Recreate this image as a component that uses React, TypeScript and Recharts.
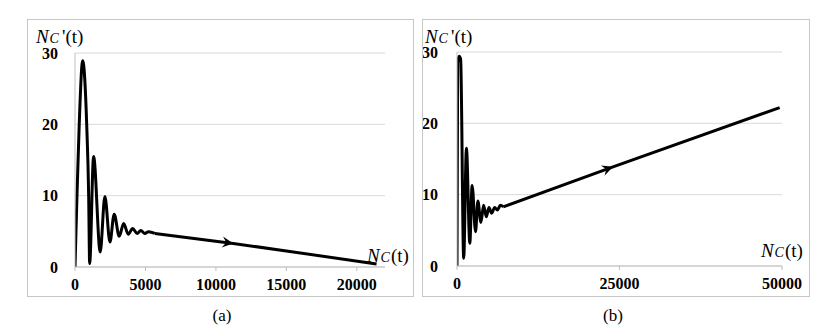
import React from "react";
import { LineChart, Line, XAxis, YAxis, CartesianGrid } from "recharts";

// panel (a): N_C(t) on x, N_C'(t) on y
const xA = [0, 140, 300, 545, 830, 970, 1040, 1320, 1790, 2120, 2480, 2780, 3140, 3450, 3780, 4090, 4410, 4670, 4960, 5220, 5670, 11230, 15000, 21400];
const yA = [0, 10, 20, 28.9, 20, 10, 0.5, 15.5, 2.1, 9.9, 3.5, 7.4, 4.3, 6.1, 4.6, 5.4, 4.7, 5.1, 4.7, 4.95, 4.7, 3.3, 2.25, 0.42];
const tailA = 5670; // straight part starts here
const arrowA = 11230;
const ticksA = [0, 5000, 10000, 15000, 20000];

// panel (b)
const xB = [0, 100, 330, 560, 1030, 1450, 1970, 2330, 2850, 3210, 3680, 4090, 4500, 4920, 5330, 5800, 6210, 6680, 7120, 24000, 49640];
const yB = [0, 28.6, 29.4, 29.0, 1.1, 16.5, 3.2, 11.3, 4.8, 9.1, 6.1, 8.5, 6.9, 8.2, 7.4, 8.2, 7.85, 8.5, 8.3, 13.9, 22.2];
const tailB = 7120;
const arrowB = 24000;
const ticksB = [0, 25000, 50000];

const yTicks = [0, 10, 20, 30];

const serif = "'Liberation Serif', 'Times New Roman', serif";
const tickStyle = { fontFamily: serif, fontSize: 16, fontWeight: 700, fill: "#000" };

interface PanelProps {
  xs: number[];
  ys: number[];
  tailAt: number;
  arrowAt: number;
  xMax: number;
  xTicks: number[];
  left: number;
  yAxisW: number;
  right: number;
  top: number;
  bottomH: number;
  yTickMargin: number;
}

function Panel({ xs, ys, tailAt, arrowAt, xMax, xTicks, left, yAxisW, right, top, bottomH, yTickMargin }: PanelProps) {
  const W = 414;
  const H = 300;
  const data = xs.map((x, i) => ({
    x,
    osc: x <= tailAt ? ys[i] : null,
    tail: x >= tailAt ? ys[i] : null,
  }));
  const plotW = W - yAxisW - right;
  const plotH = H - top - bottomH;
  const kx = plotW / xMax;
  const ky = plotH / 30;
  const ai = xs.indexOf(arrowAt);

  const renderDot = (p: any) => {
    if (p.index !== ai) return <g key={p.index} />;
    const dx = (xs[ai + 1] - xs[ai - 1]) * kx;
    const dy = -(ys[ai + 1] - ys[ai - 1]) * ky;
    const ang = (Math.atan2(dy, dx) * 180) / Math.PI;
    return (
      <path
        key={p.index}
        d="M0,0 L-11,-5.5 L-7,0 L-11,5.5 Z"
        fill="#000"
        transform={`translate(${p.cx},${p.cy}) rotate(${ang})`}
      />
    );
  };

  return (
    <div style={{ position: "absolute", left, top: 0 }}>
      <LineChart width={W} height={H} data={data} margin={{ top, right, bottom: 0, left: 0 }}>
        <CartesianGrid vertical={false} stroke="#d9d9d9" />
        <XAxis
          type="number"
          dataKey="x"
          domain={[0, xMax]}
          ticks={xTicks}
          height={bottomH}
          tickSize={4}
          tickMargin={8}
          stroke="#bfbfbf"
          tick={tickStyle}
          allowDataOverflow
        />
        <YAxis
          type="number"
          domain={[0, 30]}
          ticks={yTicks}
          width={yAxisW}
          tickLine={false}
          tickMargin={yTickMargin}
          stroke="#bfbfbf"
          tick={tickStyle}
        />
        <Line
          type="monotone"
          dataKey="osc"
          stroke="#000"
          strokeWidth={3}
          dot={false}
          activeDot={false}
          isAnimationActive={false}
        />
        <Line
          type="linear"
          dataKey="tail"
          stroke="#000"
          strokeWidth={3}
          dot={renderDot}
          activeDot={false}
          isAnimationActive={false}
        />
      </LineChart>
    </div>
  );
}

function AxisTitle({ x, y, prime }: { x: number; y: number; prime: boolean }) {
  return (
    <g fontFamily={serif} fill="#000">
      <text x={x} y={y} fontSize={19} fontStyle="italic">N</text>
      <text x={x + 13.5} y={y} fontSize={14} fontStyle="italic">C</text>
      <text x={x + (prime ? 26 : 24)} y={y} fontSize={19}>{prime ? "'(t)" : "(t)"}</text>
    </g>
  );
}

export default function App() {
  return (
    <div style={{ position: "absolute", left: 0, top: 0, width: 828, height: 335, background: "#fff" }}>
      <Panel xs={xA} ys={yA} tailAt={tailA} arrowAt={arrowA} xMax={22000} xTicks={ticksA} left={0} yAxisW={75} right={29} top={53} bottomH={33} yTickMargin={11} />
      <Panel xs={xB} ys={yB} tailAt={tailB} arrowAt={arrowB} xMax={50000} xTicks={ticksB} left={414} yAxisW={43} right={46} top={52} bottomH={34} yTickMargin={13} />
      <svg width={828} height={335} style={{ position: "absolute", left: 0, top: 0, pointerEvents: "none" }}>
        <rect x={27.5} y={19.5} width={386} height={277} fill="none" stroke="#c6c6c6" />
        <rect x={422.5} y={19.5} width={387} height={277} fill="none" stroke="#c6c6c6" />
        <AxisTitle x={36} y={43} prime />
        <AxisTitle x={367} y={262} prime={false} />
        <AxisTitle x={425} y={43} prime />
        <AxisTitle x={761} y={257} prime={false} />
        <text x={222} y={321} textAnchor="middle" fontFamily={serif} fontSize={17} fill="#000">(a)</text>
        <text x={613} y={321} textAnchor="middle" fontFamily={serif} fontSize={17} fill="#000">(b)</text>
      </svg>
    </div>
  );
}
